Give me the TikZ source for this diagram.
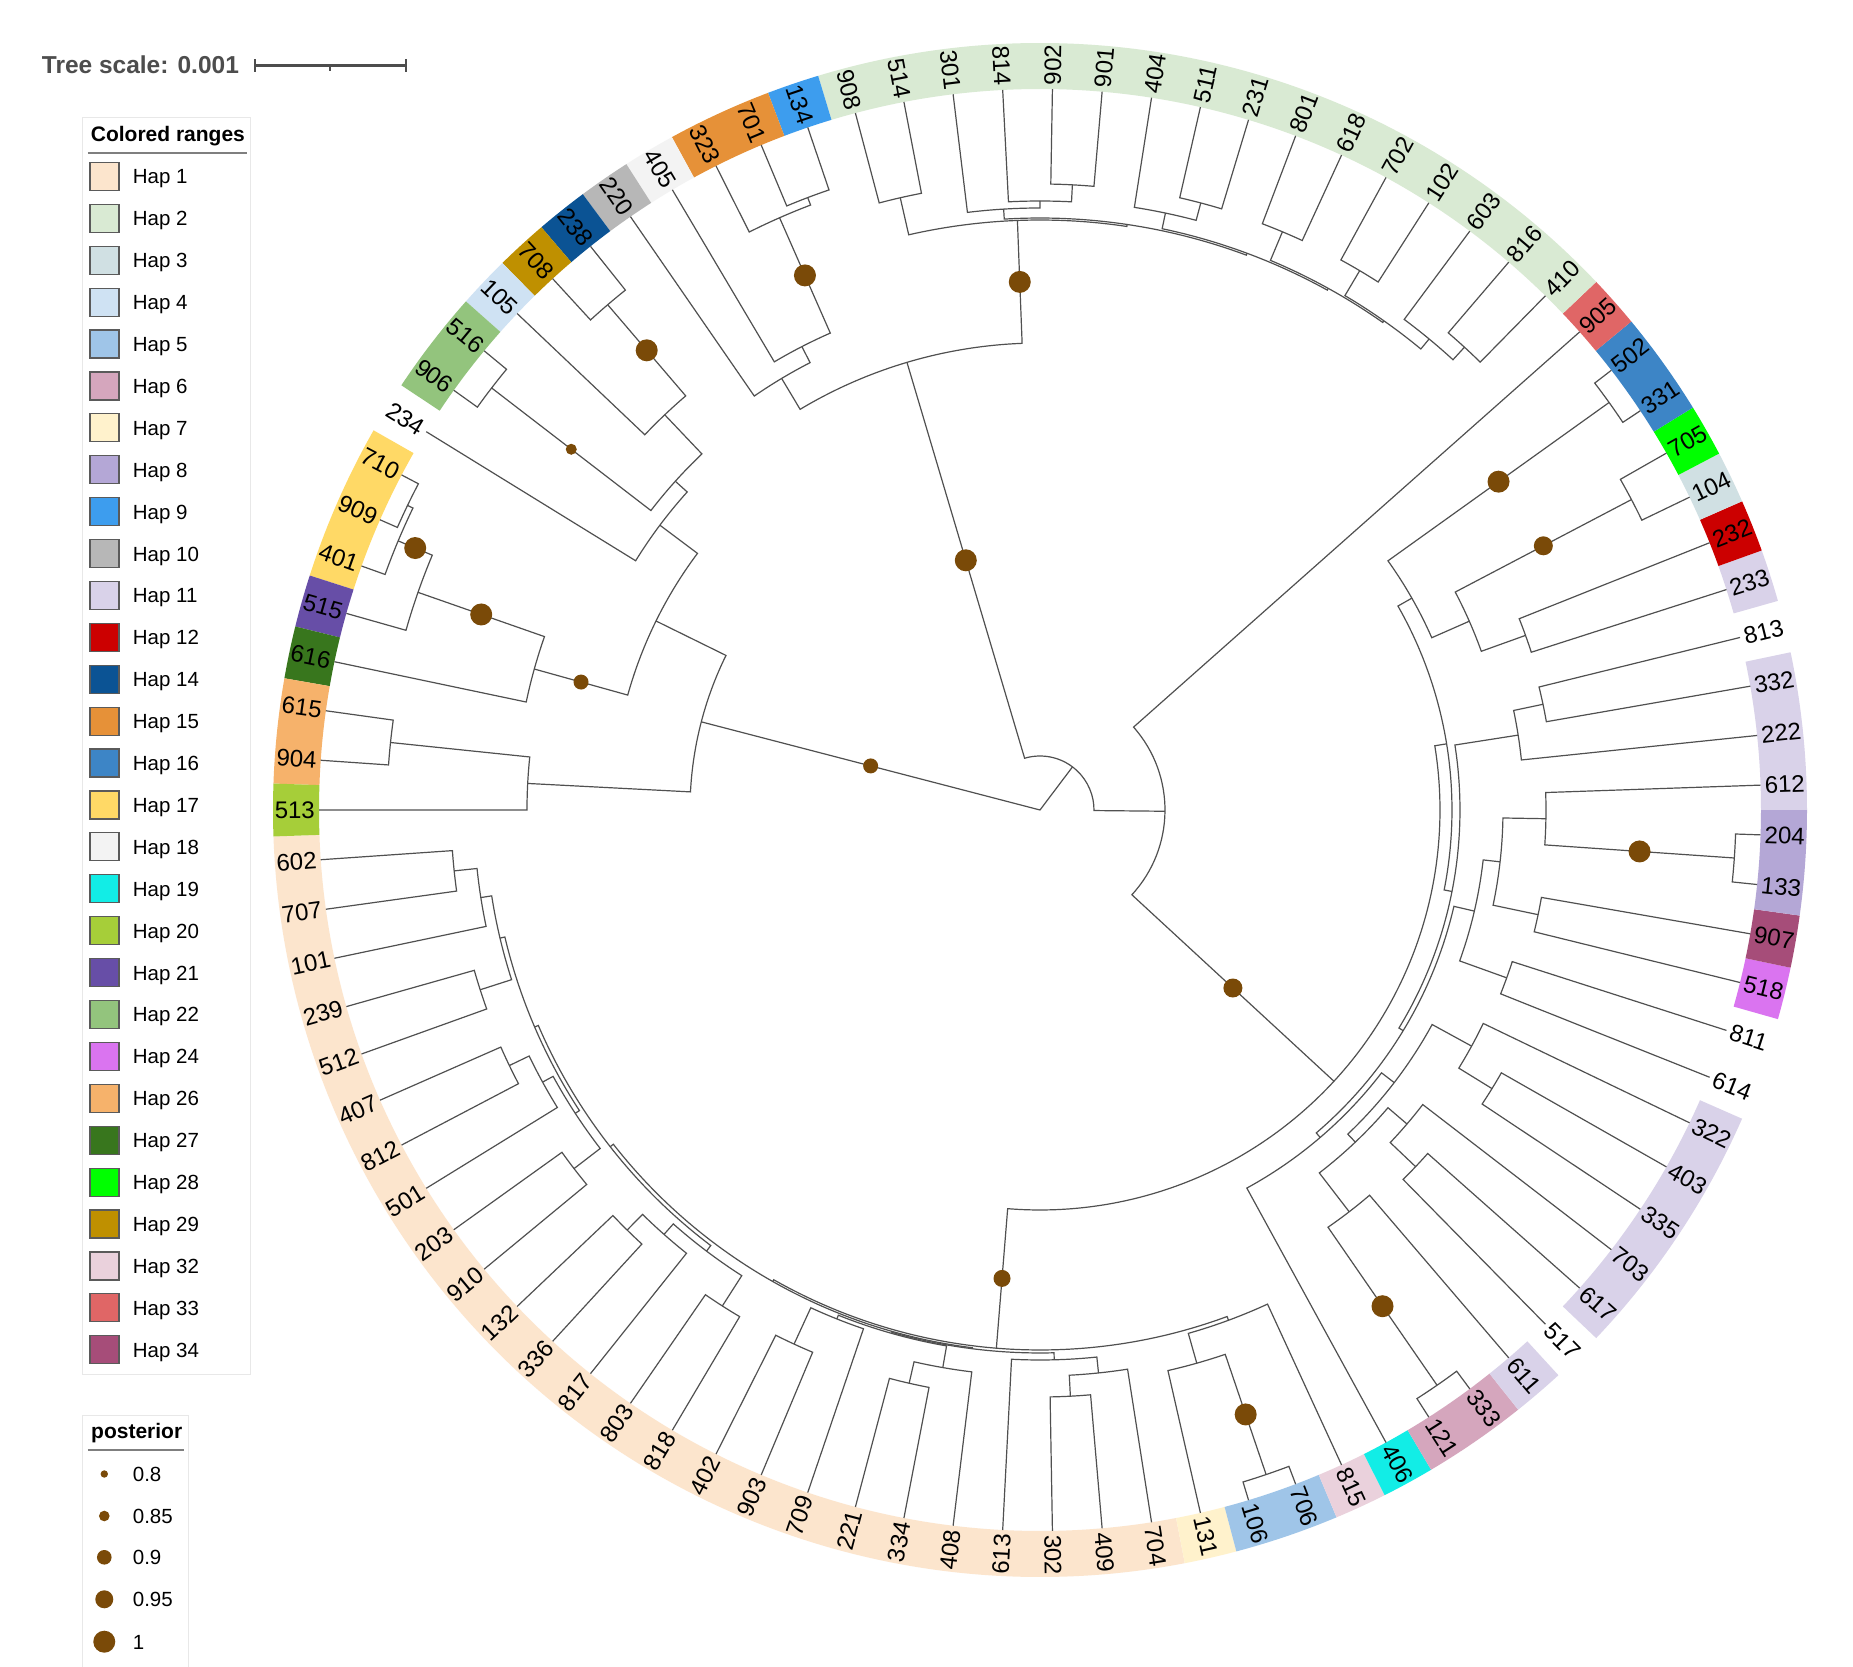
\documentclass[tikz,border=0pt]{standalone}
\usepackage{fontspec}
\setmainfont{Liberation Sans}
\definecolor{h1}{HTML}{FCE5CD}\definecolor{h2}{HTML}{D9EAD3}\definecolor{h3}{HTML}{D0E0E3}
\definecolor{h4}{HTML}{CFE2F3}\definecolor{h5}{HTML}{9FC5E8}\definecolor{h6}{HTML}{D5A6BD}
\definecolor{h7}{HTML}{FFF2CC}\definecolor{h8}{HTML}{B4A7D6}\definecolor{h9}{HTML}{3D9DEE}
\definecolor{h10}{HTML}{B7B7B7}\definecolor{h11}{HTML}{D9D2E9}\definecolor{h12}{HTML}{CC0000}
\definecolor{h14}{HTML}{0B5394}\definecolor{h15}{HTML}{E69138}\definecolor{h16}{HTML}{3D85C6}
\definecolor{h17}{HTML}{FFD966}\definecolor{h18}{HTML}{F3F3F3}\definecolor{h19}{HTML}{12EDE6}
\definecolor{h20}{HTML}{A6CE39}\definecolor{h21}{HTML}{674EA7}\definecolor{h22}{HTML}{93C47D}
\definecolor{h24}{HTML}{DA74F0}\definecolor{h26}{HTML}{F6B26B}\definecolor{h27}{HTML}{38761D}
\definecolor{h28}{HTML}{00FF00}\definecolor{h29}{HTML}{BF9000}\definecolor{h32}{HTML}{EAD1DC}
\definecolor{h33}{HTML}{E06666}\definecolor{h34}{HTML}{A64D79}
\definecolor{treegray}{HTML}{505050}\definecolor{postbrown}{HTML}{7A4A08}
\definecolor{scalegray}{HTML}{4D4D4D}\definecolor{boxgray}{HTML}{E8E8E8}
\definecolor{linegray}{HTML}{7F7F7F}\definecolor{swgray}{HTML}{5A5A5A}
\tikzset{
  br/.style={draw=treegray, line width=1.2pt},
  leaflab/.style={font=\fontsize{24}{28}\selectfont, inner sep=0pt, text=black},
  dotc/.style={fill=postbrown},
  legtxt/.style={font=\fontsize{20.5}{24}\selectfont, inner sep=0pt, anchor=base west},
  legttl/.style={font=\bfseries\fontsize{21}{25}\selectfont, inner sep=0pt, anchor=base west},
}
\newcommand\TLeaf[2]{%
  \pgfmathsetmacro\tla{1.97802+#1*3.95604}%
  \expandafter\xdef\csname ta@#2\endcsname{\tla}%
  \expandafter\xdef\csname tr@#2\endcsname{721}%
  \pgfmathtruncatemacro\tlside{cos(\tla)<0}%
  \ifnum\tlside=1
    \node[leaflab, anchor=east, rotate=\tla+180] (lab#2) at (\tla:725) {#2};%
  \else
    \node[leaflab, anchor=west, rotate=\tla] (lab#2) at (\tla:725) {#2};%
  \fi}
\newcommand\TNode[4]{%
  \edef\tnA{\csname ta@#3\endcsname}\edef\tnB{\csname ta@#4\endcsname}%
  \edef\tnRA{\csname tr@#3\endcsname}\edef\tnRB{\csname tr@#4\endcsname}%
  \pgfmathsetmacro\tnM{(\tnA+\tnB)/2}%
  \expandafter\xdef\csname ta@#1\endcsname{\tnM}%
  \expandafter\xdef\csname tr@#1\endcsname{#2}%
  \draw[br] (\tnA:\tnRA) -- (\tnA:#2) arc[start angle=\tnA, end angle=\tnB, radius=#2pt] -- (\tnB:\tnRB);%
  \coordinate (#1) at (\tnM:#2);}
\newcommand\TDot[3]{%
  \edef\tdA{\csname ta@#1\endcsname}%
  \pgfmathsetmacro\tdr{(#2+\csname tr@#1\endcsname)/2}%
  \fill[dotc] (\tdA:\tdr) circle[radius=#3pt];}
\newcommand\TRange[3]{%
  \pgfmathsetmacro\trs{#2*3.95604}\pgfmathsetmacro\tre{(#3+1)*3.95604}%
  \fill[#1] (\trs:721) arc[start angle=\trs, end angle=\tre, radius=721pt] -- (\tre:767) arc[start angle=\tre, end angle=\trs, radius=767pt] -- cycle;}
\begin{document}
\begin{tikzpicture}[x=1pt,y=1pt]
\path[use as bounding box, fill=white] (-1040,-857) rectangle (813,810);
% colored ranges
\TRange{h1}{-45}{-21}\TRange{h7}{-20}{-20}\TRange{h5}{-19}{-18}\TRange{h32}{-17}{-17}
\TRange{h19}{-16}{-16}\TRange{h6}{-15}{-14}\TRange{h11}{-13}{-13}\TRange{h11}{-11}{-7}
\TRange{h24}{-4}{-4}\TRange{h34}{-3}{-3}\TRange{h8}{-2}{-1}\TRange{h11}{0}{2}
\TRange{h11}{4}{4}\TRange{h12}{5}{5}\TRange{h3}{6}{6}\TRange{h28}{7}{7}
\TRange{h16}{8}{9}\TRange{h33}{10}{10}\TRange{h2}{11}{26}\TRange{h9}{27}{27}
\TRange{h15}{28}{29}\TRange{h18}{30}{30}\TRange{h10}{31}{31}\TRange{h14}{32}{32}
\TRange{h29}{33}{33}\TRange{h4}{34}{34}\TRange{h22}{35}{36}\TRange{h17}{38}{40}
\TRange{h21}{41}{41}\TRange{h27}{42}{42}\TRange{h26}{43}{44}\TRange{h20}{45}{45}
% leaves
\foreach \lab [count=\k from 0] in {602,707,101,239,512,407,812,501,203,910,132,336,817,803,818,402,903,709,221,334,408,613,302,409,704,131,106,706,815,406,121,333,611,517,617,703,335,403,322,614,811,518,907,133,204,612,222,332,813,233,232,104,705,331,502,905,410,816,603,102,702,618,801,231,511,404,901,902,814,301,514,908,134,701,323,405,220,238,708,105,516,906,234,710,909,401,515,616,615,904,513}{%
  \pgfmathtruncatemacro\ii{\k-45}\TLeaf{\ii}{\lab}}
% Hap 2 clade
\TNode{n908}{628}{908}{514}
\TNode{n902}{626}{902}{901}
\TNode{N1}{609}{814}{n902}
\TNode{N2}{602}{301}{N1}
\TNode{n511}{628}{511}{231}
\TNode{S404}{610}{404}{n511}
\TNode{n801}{627}{801}{618}
\TNode{n702}{627}{702}{102}
\TNode{n816}{628}{816}{410}
\TNode{S603}{611}{603}{n816}
\TNode{H2a}{598}{n702}{S603}
\TNode{H2b}{596}{n801}{H2a}
\TNode{H2c}{594}{S404}{H2b}
\TNode{H2d}{592}{N2}{H2c}
\TNode{H2}{590}{n908}{H2d}
% U clade
\TNode{n701}{655}{701}{134}
\TNode{S323}{647}{323}{n701}
\TNode{V}{521}{405}{S323}
\TNode{U}{503}{220}{V}
\TNode{T}{467}{U}{H2}
% left clade
\TNode{n615}{653}{615}{904}
\TNode{X1}{513}{513}{n615}
\TNode{n710}{702}{710}{909}
\TNode{S401}{696}{n710}{401}
\TNode{Z1}{659}{S401}{515}
\TNode{Z2}{525}{Z1}{616}
\TNode{n516}{692}{516}{906}
\TNode{n708}{665}{708}{238}
\TNode{S105}{545}{105}{n708}
\TNode{R}{491}{n516}{S105}
\TNode{P}{475}{234}{R}
\TNode{Y}{428}{Z2}{P}
\TNode{L}{350}{X1}{Y}
% right clade
\TNode{n204}{696}{204}{133}
\TNode{S612}{506}{612}{n204}
\TNode{n907}{509}{907}{518}
\TNode{G6}{463}{S612}{n907}
\TNode{n811}{496}{811}{614}
\TNode{G13}{446}{G6}{n811}
\TNode{n813}{514}{813}{332}
\TNode{S222}{484}{222}{n813}
\TNode{n502}{700}{502}{331}
\TNode{n104}{668}{104}{705}
\TNode{n233}{516}{233}{232}
\TNode{S104}{469}{n104}{n233}
\TNode{Q1}{428}{n502}{S104}
\TNode{n403}{531}{403}{335}
\TNode{S322}{492}{322}{n403}
\TNode{n617}{518}{617}{517}
\TNode{S703}{483}{703}{n617}
\TNode{n121}{699}{121}{333}
\TNode{S611}{507}{611}{n121}
\TNode{S7611}{458}{S703}{S611}
\TNode{LGa}{447}{S322}{S7611}
\TNode{LG}{431}{LGa}{406}
\TNode{M2}{425}{G13}{LG}
\TNode{M}{420}{S222}{M2}
\TNode{Kup}{412}{Q1}{M}
% Hap 1 part
\TNode{n602}{589}{602}{707}
\TNode{C1}{566}{n602}{101}
\TNode{C2}{588}{239}{512}
\TNode{n407}{589}{407}{812}
\TNode{C3}{567}{n407}{501}
\TNode{C4}{588}{203}{910}
\TNode{n132}{589}{132}{336}
\TNode{C5}{567}{n132}{817}
\TNode{C6}{589}{803}{818}
\TNode{n402}{588}{402}{903}
\TNode{C7}{548}{n402}{709}
\TNode{n221}{588}{221}{334}
\TNode{C8}{566}{n221}{408}
\TNode{n302}{587}{302}{409}
\TNode{C10}{566}{n302}{704}
\TNode{n106}{702}{106}{706}
\TNode{C11}{575}{n106}{131}
\TNode{P12}{555}{C1}{C2}
\TNode{P34}{555}{C3}{C4}
\TNode{P1234}{550}{P12}{P34}
\TNode{P56}{553}{C5}{C6}
\TNode{P16}{546}{P1234}{P56}
\TNode{P78}{544}{C7}{C8}
\TNode{P910}{550}{613}{C10}
\TNode{P710}{543}{P78}{P910}
\TNode{E}{542}{P16}{P710}
\TNode{Kx}{544}{815}{C11}
\TNode{Kdn}{540}{Kx}{E}
\TNode{K}{400}{Kup}{Kdn}
\TNode{B}{125}{905}{K}
\TNode{A}{54}{T}{B}
% root
\coordinate (root) at (0,0);
\edef\raA{\csname ta@A\endcsname}\edef\raL{\csname ta@L\endcsname}
\draw[br] (\raA:54) -- (root) -- (\raL:350);
% posterior dots
\TDot{T}{54}{11}\TDot{H2}{467}{11}\TDot{S323}{521}{11}\TDot{L}{0}{7.5}
\TDot{n708}{545}{11}\TDot{n516}{491}{5.5}\TDot{Z2}{428}{7.5}\TDot{Z1}{525}{11}
\TDot{S401}{659}{11}\TDot{n502}{428}{11}\TDot{n104}{469}{9.5}\TDot{n204}{506}{11}
\TDot{K}{125}{9.5}\TDot{Kdn}{400}{8.5}\TDot{n121}{507}{11}\TDot{n106}{575}{11}
% legends
\begin{scope}[shift={(-1040pt,810pt)}, y=-1pt]
  \node[anchor=base west, font=\bfseries\fontsize{24.5}{28}\selectfont, text=scalegray, inner sep=0pt] (tscale) at (41.7,73.3) {Tree scale: 0.001};
  \draw[scalegray, line width=3pt] (255,65.7) -- (405.7,65.7);
  \draw[scalegray, line width=2pt] (255,59.3) -- (255,72.3) (405.7,59.3) -- (405.7,72.3) (330,65.7) -- (330,71.3);
  \draw[boxgray, line width=1pt] (83,118) rectangle (251,1374);
  \node[legttl] (crtitle) at (90.7,141.7) {Colored ranges};
  \draw[linegray, line width=2pt] (88,152.7) -- (247,152.7);
  \foreach \c/\t [count=\k from 0] in {h1/1,h2/2,h3/3,h4/4,h5/5,h6/6,h7/7,h8/8,h9/9,h10/10,h11/11,h12/12,h14/14,h15/15,h16/16,h17/17,h18/18,h19/19,h20/20,h21/21,h22/22,h24/24,h26/26,h27/27,h28/28,h29/29,h32/32,h33/33,h34/34}{%
    \pgfmathsetmacro\yy{176.5+\k*41.9}
    \draw[fill=\c, draw=swgray, line width=1.2pt] (90,\yy-14) rectangle (119,\yy+14);
    \node[legtxt] (hap\t) at (132.7,\yy+7.5) {Hap \t};
  }
  \draw[boxgray, line width=1pt] (83,1415) rectangle (188.3,1675);
  \node[legttl] (pttl) at (91,1438) {posterior};
  \draw[linegray, line width=2pt] (88,1450) -- (184,1450);
  \foreach \yy/\rr/\t [count=\k] in {1474/3.7/0.8,1516/5.3/0.85,1557.3/7.3/0.9,1599.3/9/0.95,1641.7/11/1}{%
    \fill[dotc] (104.3,\yy) circle[radius=\rr pt];
    \node[legtxt] (post\k) at (132.7,\yy+7.5) {\t};
  }
\end{scope}
\end{tikzpicture}
\end{document}
